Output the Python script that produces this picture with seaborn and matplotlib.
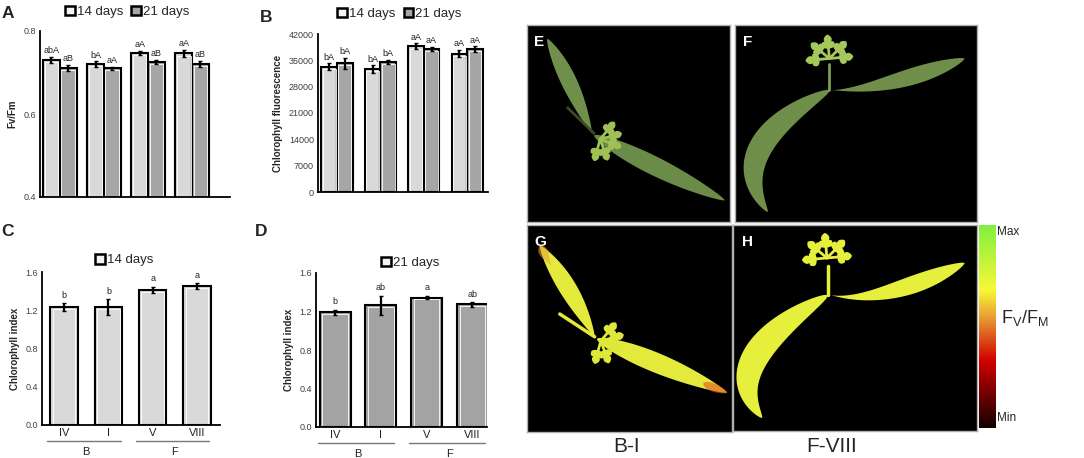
import numpy as np
import pandas as pd
import matplotlib
matplotlib.use("Agg")
import matplotlib.pyplot as plt
import seaborn as sns
from matplotlib.patches import Patch, Polygon
from matplotlib.container import BarContainer
from matplotlib.colors import LinearSegmentedColormap

# ---------------- data ----------------
genotypes = ["IV", "I", "V", "VIII"]
groups = ["B", "B", "F", "F"]
days = ["14 days", "21 days"]

fvfm_14 = [0.730, 0.720, 0.748, 0.746]
fvfm_21 = [0.711, 0.710, 0.726, 0.721]
fvfm_14_err = [0.008, 0.007, 0.005, 0.008]
fvfm_21_err = [0.007, 0.004, 0.005, 0.007]
fvfm_14_lab = ["abA", "bA", "aA", "aA"]
fvfm_21_lab = ["aB", "aA", "aB", "aB"]

fluo_14 = [33300, 32700, 38700, 36800]
fluo_21 = [34200, 34600, 38000, 38000]
fluo_14_err = [900, 1000, 800, 1000]
fluo_21_err = [1500, 600, 600, 800]
fluo_14_lab = ["bA", "bA", "aA", "aA"]
fluo_21_lab = ["bA", "bA", "aA", "aA"]

chl_14 = [1.233, 1.233, 1.415, 1.453]
chl_14_err = [0.04, 0.08, 0.03, 0.03]
chl_14_lab = ["b", "b", "a", "a"]

chl_21 = [1.19, 1.265, 1.345, 1.275]
chl_21_err = [0.03, 0.10, 0.02, 0.025]
chl_21_lab = ["b", "ab", "a", "ab"]

sns.set_theme(style="white")
plt.rcParams["font.family"] = ["Liberation Sans", "DejaVu Sans"]

LIGHT = "#d9d9d9"
DARK = "#a6a6a6"
W, H = 1084, 458
fig = plt.figure(figsize=(W / 100, H / 100), dpi=100)


def fax(l, t, r, b):
    return fig.add_axes([l / W, 1 - b / H, (r - l) / W, (b - t) / H])


def bar_containers(ax):
    return [c for c in ax.containers if isinstance(c, BarContainer)]


def style_axis(ax, yticks, fmt):
    for s in ["top", "right"]:
        ax.spines[s].set_visible(False)
    for s in ["left", "bottom"]:
        ax.spines[s].set_color("black")
        ax.spines[s].set_linewidth(1.3)
    ax.set_yticks(yticks)
    ax.set_yticklabels([fmt.format(v) for v in yticks], fontsize=6.5, color="#404040")
    ax.tick_params(axis="both", length=0, pad=3)
    ax.set_xlabel("")


def inner_highlight(ax):
    # thin white line just inside each bar outline, as in the original figure
    y0 = ax.get_ylim()[0]
    for cont in bar_containers(ax):
        for b in cont:
            x, w, h = b.get_x(), b.get_width(), b.get_height()
            top = h - (h - y0) * 0.015
            ax.add_patch(plt.Rectangle((x + w * 0.09, y0), w * 0.82, top - y0, fill=False,
                                       edgecolor="white", linewidth=0.6,
                                       zorder=b.get_zorder() + 0.1))


def grouped(ax, v14, v21, e14, e21, l14, l21, width, off, ylim, yticks, fmt, ylabel, xlim):
    df = pd.DataFrame({
        "g": genotypes * 2,
        "v": v14 + v21,
        "d": [days[0]] * 4 + [days[1]] * 4,
    })
    sns.barplot(data=df, x="g", y="v", hue="d", order=genotypes, hue_order=days,
                palette={days[0]: LIGHT, days[1]: DARK}, width=width,
                edgecolor="black", linewidth=1.5, errorbar=None, legend=False, ax=ax)
    ax.set_ylim(*ylim)
    bcs = bar_containers(ax)
    for cont, vals, errs, labs in zip(bcs, [v14, v21], [e14, e21], [l14, l21]):
        xs = [b.get_x() + b.get_width() / 2 for b in cont]
        ax.errorbar(xs, vals, yerr=errs, fmt="none", ecolor="black", elinewidth=1.6, capsize=1.2,
                    zorder=5)
        for x, v, e, t in zip(xs, vals, errs, labs):
            ax.text(x, v + e + off, t, ha="center", va="bottom", fontsize=6.5, color="#222222")
    ax.set_xlim(*xlim)
    ax.set_xticks([])
    style_axis(ax, yticks, fmt)
    ax.set_ylabel(ylabel, fontsize=7, fontweight="bold", labelpad=4)


def single(ax, vals, errs, labs, color, width, xlim, ylabel):
    sns.barplot(x=genotypes, y=vals, order=genotypes, color=color, width=width,
                edgecolor="black", linewidth=1.5, errorbar=None, ax=ax)
    ax.set_ylim(0, 1.6)
    xs = [b.get_x() + b.get_width() / 2 for b in bar_containers(ax)[0]]
    ax.errorbar(xs, vals, yerr=errs, fmt="none", ecolor="black", elinewidth=1.6, capsize=1.2,
                zorder=5)
    for x, v, e, t in zip(xs, vals, errs, labs):
        ax.text(x, v + e + 0.035, t, ha="center", va="bottom", fontsize=6.5, color="#222222")
    ax.set_xlim(*xlim)
    style_axis(ax, [0.0, 0.4, 0.8, 1.2, 1.6], "{:.1f}")
    ax.set_xticks(range(len(genotypes)))
    ax.set_xticklabels(genotypes, fontsize=8, color="#222222")
    ax.tick_params(axis="x", pad=2)
    ax.set_ylabel(ylabel, fontsize=7, fontweight="bold", labelpad=4)
    tr = ax.get_xaxis_transform()
    for gname in dict.fromkeys(groups):
        idx = [i for i, g in enumerate(groups) if g == gname]
        x0, x1 = min(idx) - 0.38, max(idx) + 0.28
        ax.plot([x0, x1], [-0.105, -0.105], color="#777777", lw=1.0, transform=tr, clip_on=False)
        ax.text((min(idx) + max(idx)) / 2, -0.145, gname, ha="center", va="top",
                fontsize=8, color="#222222", transform=tr)


def legend(ax, handles, x, y):
    ax.legend(handles=handles, loc="center", bbox_to_anchor=(x, y), ncol=len(handles),
              frameon=False, fontsize=9.5, handlelength=0.75, handleheight=0.75,
              handletextpad=0.15, columnspacing=0.6, borderpad=0)


def hpatch(fc, label):
    return Patch(facecolor=fc, edgecolor="black", linewidth=1.8, label=label)


hA = [hpatch("#f4f4f4", days[0]), hpatch(DARK, days[1])]

# A
axA = fax(40, 31, 230, 197)
grouped(axA, fvfm_14, fvfm_21, fvfm_14_err, fvfm_21_err, fvfm_14_lab, fvfm_21_lab,
        0.76, 0.004, (0.4, 0.8), [0.4, 0.6, 0.8], "{:.1f}", "Fv/Fm", (-0.45, 3.86))
inner_highlight(axA)
legend(axA, hA, 0.46, 1.115)

# B
axB = fax(318, 34, 488, 192)
grouped(axB, fluo_14, fluo_21, fluo_14_err, fluo_21_err, fluo_14_lab, fluo_21_lab,
        0.72, 400, (0, 42000), list(range(0, 42001, 7000)), "{:d}",
        "Chlorophyll fluorescence", (-0.44, 3.48))
inner_highlight(axB)
legend(axB, hA, 0.48, 1.127)

# C
axC = fax(42, 272, 220, 425)
single(axC, chl_14, chl_14_err, chl_14_lab, LIGHT, 0.62, (-0.5, 3.52), "Chlorophyll index")
inner_highlight(axC)
legend(axC, [hpatch("#f4f4f4", days[0])], 0.46, 1.078)

# D
axD = fax(316, 273, 487, 427)
single(axD, chl_21, chl_21_err, chl_21_lab, "#a3a3a3", 0.68, (-0.42, 3.32), "Chlorophyll index")
inner_highlight(axD)
legend(axD, [hpatch("#f4f4f4", days[1])], 0.55, 1.065)

for lab, (x, y) in zip("ABCD", [(8, 13), (266, 17), (8, 231), (261, 231)]):
    fig.text(x / W, 1 - y / H, lab, fontsize=12.5, fontweight="bold", ha="center", va="center")


# ---------------- image panels (illustrative) ----------------
def leaf_poly(p0, c, p2, wmax, aspect, peak=0.5, n=80):
    t = np.linspace(0, 1, n)[:, None]
    P0 = np.array([p0[0] * aspect, p0[1]])
    C = np.array([c[0] * aspect, c[1]])
    P2 = np.array([p2[0] * aspect, p2[1]])
    B = (1 - t) ** 2 * P0 + 2 * (1 - t) * t * C + t ** 2 * P2
    dB = 2 * (1 - t) * (C - P0) + 2 * t * (P2 - C)
    nrm = np.hstack([-dB[:, 1:2], dB[:, 0:1]])
    nrm /= np.linalg.norm(nrm, axis=1, keepdims=True)
    s = t[:, 0] ** (np.log(0.5) / np.log(peak))
    w = wmax * np.sin(np.pi * s) ** 0.7
    up = B + nrm * w[:, None] / 2
    lo = B - nrm * w[:, None] / 2
    pts = np.vstack([up, lo[::-1]])
    pts[:, 0] /= aspect
    return pts


def draw_leaf(ax, p0, c, p2, wmax, color, aspect, peak=0.5, alpha=1.0):
    ax.add_patch(Polygon(leaf_poly(p0, c, p2, wmax, aspect, peak), closed=True,
                         facecolor=color, edgecolor="none", alpha=alpha))


def compound(ax, center, angles, length, color, aspect):
    cx, cy = center
    for a in angles:
        r = np.deg2rad(a)
        end = (cx + length * np.cos(r) / aspect, cy + length * np.sin(r))
        ax.plot([cx, end[0]], [cy, end[1]], color=color, lw=2.0, solid_capstyle="round")
        for side in (-40, 40):
            r2 = r + np.deg2rad(side)
            base = (cx + 0.55 * length * np.cos(r) / aspect, cy + 0.55 * length * np.sin(r))
            tip = (base[0] + 0.5 * length * np.cos(r2) / aspect,
                   base[1] + 0.5 * length * np.sin(r2))
            mid = ((base[0] + tip[0]) / 2, (base[1] + tip[1]) / 2)
            draw_leaf(ax, base, mid, tip, length * 0.38, color, aspect, peak=0.6)
        tip = (cx + 1.35 * length * np.cos(r) / aspect, cy + 1.35 * length * np.sin(r))
        base = (cx + 0.8 * length * np.cos(r) / aspect, cy + 0.8 * length * np.sin(r))
        mid = ((base[0] + tip[0]) / 2, (base[1] + tip[1]) / 2)
        draw_leaf(ax, base, mid, tip, length * 0.45, color, aspect, peak=0.5)


def panel(l, t, r, b, letter):
    ax = fax(l, t, r, b)
    ax.set_facecolor("black")
    ax.set_xlim(0, 1)
    ax.set_ylim(0, 1)
    ax.set_xticks([])
    ax.set_yticks([])
    for s in ax.spines.values():
        s.set_color("#b0b0b0")
        s.set_linewidth(1.0)
    ax.text(0.035, 0.95, letter, color="white", fontsize=11, fontweight="bold",
            transform=ax.transAxes, ha="left", va="top")
    return ax, (r - l) / (b - t)


angles_E = [50, 15, -20, -70, -105]
angles_F = [95, 140, 185, 45, 5]

axE, aE = panel(527, 25, 730, 222, "E")
draw_leaf(axE, (0.32, 0.45), (0.22, 0.70), (0.10, 0.93), 0.08, "#6f8f4a", aE, peak=0.55)
draw_leaf(axE, (0.33, 0.44), (0.65, 0.27), (0.975, 0.11), 0.095, "#6b8b48", aE, peak=0.45)
axE.plot([0.2, 0.33], [0.58, 0.45], color="#3c4a2a", lw=2)
compound(axE, (0.36, 0.42), angles_E, 0.085, "#9ec054", aE)

axF, aF = panel(735, 25, 977, 222, "F")
draw_leaf(axF, (0.393, 0.67), (-0.06, 0.38), (0.136, 0.05), 0.12, "#6e8e4a", aF, peak=0.45)
draw_leaf(axF, (0.40, 0.67), (0.585, 0.66), (0.95, 0.83), 0.085, "#6e8e4a", aF, peak=0.7)
axF.plot([0.39, 0.39], [0.67, 0.80], color="#7e9c50", lw=2)
compound(axF, (0.39, 0.83), angles_F, 0.09, "#a6c85a", aF)

axG, aG = panel(527, 225, 732, 432, "G")
draw_leaf(axG, (0.33, 0.46), (0.22, 0.68), (0.063, 0.90), 0.085, "#e3ea3c", aG, peak=0.55)
draw_leaf(axG, (0.34, 0.45), (0.65, 0.33), (0.976, 0.19), 0.095, "#e3ea3c", aG, peak=0.45)
draw_leaf(axG, (0.12, 0.80), (0.09, 0.85), (0.063, 0.90), 0.045, "#e8a030", aG, peak=0.7, alpha=0.55)
draw_leaf(axG, (0.86, 0.235), (0.92, 0.21), (0.976, 0.19), 0.04, "#e85020", aG, peak=0.4, alpha=0.6)
axG.plot([0.16, 0.33], [0.57, 0.46], color="#e3ea3c", lw=2.5)
compound(axG, (0.36, 0.44), angles_E, 0.085, "#dde83a", aG)

axH, aH = panel(733, 225, 977, 431, "H")
draw_leaf(axH, (0.39, 0.66), (-0.08, 0.34), (0.12, 0.063), 0.13, "#e6ef3c", aH, peak=0.45)
draw_leaf(axH, (0.40, 0.66), (0.59, 0.61), (0.95, 0.816), 0.085, "#e6ef3c", aH, peak=0.7)
axH.plot([0.39, 0.39], [0.66, 0.80], color="#e6ef3c", lw=2.5)
compound(axH, (0.385, 0.84), angles_F, 0.09, "#e6ef3c", aH)

# colorbar
cmap = LinearSegmentedColormap.from_list(
    "fvfm", [(0.0, "#140000"), (0.33, "#d00000"), (0.55, "#e8a035"),
             (0.68, "#f8f835"), (1.0, "#80f040")])
axCb = fax(979, 225, 995, 428)
axCb.imshow(np.linspace(0, 1, 256)[:, None], aspect="auto", cmap=cmap, origin="lower",
            extent=(0, 1, 0, 1))
axCb.set_xticks([])
axCb.set_yticks([])
for s in axCb.spines.values():
    s.set_visible(False)
fig.text(997 / W, 1 - 232 / H, "Max", fontsize=8.5, ha="left", va="center")
fig.text(997 / W, 1 - 418 / H, "Min", fontsize=8.5, ha="left", va="center")
fig.text(1001 / W, 1 - 318 / H, r"F$_\mathregular{V}$/F$_\mathregular{M}$", fontsize=13,
         ha="left", va="center")

fig.text(627 / W, 1 - 446 / H, "B-I", fontsize=15, ha="center", va="center")
fig.text(832 / W, 1 - 446 / H, "F-VIII", fontsize=15, ha="center", va="center")

fig.savefig("out.png", dpi=100, facecolor="white")
